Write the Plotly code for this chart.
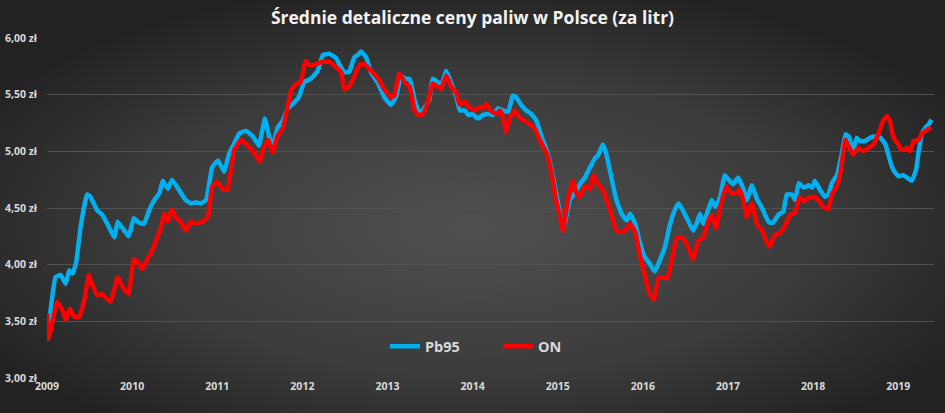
import base64
import plotly.graph_objects as go

title_text = "Średnie detaliczne ceny paliw w Polsce (za litr)"
series_names = ["Pb95", "ON"]

pb95_t = [2009.00, 2009.10, 2009.16, 2009.22, 2009.26, 2009.30, 2009.34, 2009.40, 2009.47, 2009.51,
          2009.59, 2009.65, 2009.73, 2009.79, 2009.83, 2009.89, 2009.96, 2010.02, 2010.08, 2010.14,
          2010.20, 2010.26, 2010.32, 2010.36, 2010.42, 2010.47, 2010.55, 2010.63, 2010.69, 2010.75,
          2010.81, 2010.87, 2010.94, 2011.01, 2011.08, 2011.14, 2011.18, 2011.26, 2011.34, 2011.42,
          2011.49, 2011.56, 2011.61, 2011.65, 2011.71, 2011.77, 2011.83, 2011.89, 2011.96, 2012.02,
          2012.10, 2012.18, 2012.24, 2012.32, 2012.40, 2012.44, 2012.49, 2012.55, 2012.61, 2012.65,
          2012.69, 2012.75, 2012.81, 2012.89, 2012.96, 2013.04, 2013.10, 2013.16, 2013.20, 2013.26,
          2013.32, 2013.38, 2013.44, 2013.49, 2013.53, 2013.59, 2013.63, 2013.69, 2013.75, 2013.81,
          2013.85, 2013.91, 2013.95, 2014.00, 2014.06, 2014.12, 2014.18, 2014.24, 2014.30, 2014.36,
          2014.42, 2014.47, 2014.51, 2014.57, 2014.63, 2014.69, 2014.75, 2014.81, 2014.87, 2014.93,
          2014.98, 2015.02, 2015.06, 2015.10, 2015.14, 2015.20, 2015.26, 2015.32, 2015.38, 2015.44,
          2015.47, 2015.53, 2015.57, 2015.63, 2015.69, 2015.75, 2015.81, 2015.85, 2015.91, 2015.96,
          2016.02, 2016.08, 2016.14, 2016.20, 2016.26, 2016.32, 2016.38, 2016.42, 2016.47, 2016.53,
          2016.59, 2016.63, 2016.67, 2016.71, 2016.77, 2016.81, 2016.85, 2016.91, 2016.96, 2017.02,
          2017.06, 2017.12, 2017.18, 2017.22, 2017.28, 2017.34, 2017.40, 2017.46, 2017.49, 2017.53,
          2017.59, 2017.65, 2017.69, 2017.75, 2017.79, 2017.83, 2017.89, 2017.95, 2017.99, 2018.02,
          2018.08, 2018.14, 2018.18, 2018.22, 2018.28, 2018.34, 2018.38, 2018.42, 2018.47, 2018.51,
          2018.55, 2018.61, 2018.67, 2018.73, 2018.79, 2018.85, 2018.91, 2018.94, 2019.00, 2019.06,
          2019.12, 2019.16, 2019.21, 2019.24, 2019.28, 2019.32, 2019.36, 2019.39]
pb95 = [3.33, 3.89, 3.91, 3.83, 3.95, 3.92, 4.01, 4.36, 4.62, 4.60,
        4.48, 4.44, 4.33, 4.24, 4.38, 4.32, 4.25, 4.41, 4.37, 4.36,
        4.48, 4.57, 4.63, 4.74, 4.67, 4.75, 4.66, 4.57, 4.54, 4.55,
        4.54, 4.57, 4.86, 4.92, 4.82, 4.98, 5.04, 5.16, 5.18, 5.13,
        5.05, 5.29, 5.13, 5.04, 5.21, 5.27, 5.38, 5.42, 5.48, 5.61,
        5.64, 5.71, 5.85, 5.86, 5.82, 5.76, 5.70, 5.70, 5.83, 5.85,
        5.88, 5.83, 5.69, 5.60, 5.48, 5.41, 5.48, 5.67, 5.64, 5.64,
        5.45, 5.33, 5.39, 5.45, 5.64, 5.61, 5.58, 5.71, 5.60, 5.48,
        5.36, 5.36, 5.32, 5.33, 5.29, 5.32, 5.33, 5.32, 5.38, 5.36,
        5.35, 5.49, 5.48, 5.41, 5.36, 5.33, 5.27, 5.13, 5.01, 4.83,
        4.63, 4.48, 4.30, 4.42, 4.57, 4.63, 4.71, 4.77, 4.86, 4.94,
        4.96, 5.06, 4.98, 4.77, 4.57, 4.45, 4.39, 4.45, 4.36, 4.21,
        4.07, 4.01, 3.94, 4.04, 4.16, 4.36, 4.49, 4.54, 4.48, 4.39,
        4.30, 4.36, 4.45, 4.36, 4.49, 4.57, 4.51, 4.60, 4.79, 4.74,
        4.71, 4.77, 4.67, 4.57, 4.70, 4.58, 4.50, 4.40, 4.37, 4.37,
        4.44, 4.47, 4.62, 4.62, 4.57, 4.72, 4.68, 4.70, 4.68, 4.74,
        4.66, 4.60, 4.62, 4.72, 4.79, 4.99, 5.15, 5.13, 5.00, 5.12,
        5.09, 5.09, 5.12, 5.13, 5.12, 5.06, 4.90, 4.84, 4.78, 4.79,
        4.76, 4.74, 4.84, 5.00, 5.16, 5.21, 5.24, 5.28]

on_t = [2009.00, 2009.02, 2009.12, 2009.18, 2009.22, 2009.27, 2009.32, 2009.38, 2009.44, 2009.49,
        2009.53, 2009.59, 2009.65, 2009.69, 2009.75, 2009.83, 2009.89, 2009.96, 2010.02, 2010.08,
        2010.12, 2010.18, 2010.24, 2010.28, 2010.34, 2010.38, 2010.42, 2010.47, 2010.51, 2010.57,
        2010.63, 2010.69, 2010.75, 2010.83, 2010.89, 2010.94, 2011.00, 2011.06, 2011.12, 2011.20,
        2011.28, 2011.36, 2011.44, 2011.50, 2011.55, 2011.60, 2011.65, 2011.71, 2011.77, 2011.81,
        2011.87, 2011.93, 2011.98, 2012.04, 2012.08, 2012.16, 2012.24, 2012.32, 2012.40, 2012.46,
        2012.49, 2012.55, 2012.61, 2012.67, 2012.73, 2012.81, 2012.89, 2012.96, 2013.04, 2013.08,
        2013.14, 2013.20, 2013.26, 2013.32, 2013.36, 2013.42, 2013.48, 2013.53, 2013.59, 2013.63,
        2013.69, 2013.75, 2013.81, 2013.85, 2013.91, 2013.96, 2014.02, 2014.08, 2014.12, 2014.16,
        2014.21, 2014.28, 2014.32, 2014.36, 2014.39, 2014.44, 2014.49, 2014.55, 2014.61, 2014.67,
        2014.73, 2014.79, 2014.87, 2014.93, 2014.98, 2015.02, 2015.06, 2015.12, 2015.18, 2015.22,
        2015.26, 2015.32, 2015.38, 2015.42, 2015.47, 2015.53, 2015.59, 2015.65, 2015.69, 2015.75,
        2015.79, 2015.85, 2015.91, 2015.96, 2016.02, 2016.08, 2016.13, 2016.18, 2016.24, 2016.29,
        2016.34, 2016.40, 2016.46, 2016.51, 2016.59, 2016.65, 2016.71, 2016.77, 2016.81, 2016.86,
        2016.91, 2016.98, 2017.04, 2017.10, 2017.14, 2017.18, 2017.22, 2017.28, 2017.34, 2017.40,
        2017.46, 2017.49, 2017.55, 2017.61, 2017.67, 2017.73, 2017.79, 2017.84, 2017.89, 2017.95,
        2018.01, 2018.06, 2018.12, 2018.18, 2018.22, 2018.28, 2018.32, 2018.38, 2018.42, 2018.47,
        2018.53, 2018.59, 2018.65, 2018.71, 2018.77, 2018.83, 2018.87, 2018.91, 2018.94, 2019.00,
        2019.04, 2019.10, 2019.14, 2019.18, 2019.24, 2019.28, 2019.34, 2019.39]
on = [3.57, 3.35, 3.67, 3.60, 3.51, 3.61, 3.54, 3.54, 3.69, 3.91,
      3.83, 3.73, 3.74, 3.71, 3.67, 3.89, 3.80, 3.74, 4.05, 4.01,
      3.96, 4.05, 4.13, 4.21, 4.33, 4.45, 4.38, 4.49, 4.42, 4.38,
      4.30, 4.38, 4.36, 4.38, 4.42, 4.69, 4.73, 4.67, 4.66, 5.01,
      5.10, 5.05, 4.98, 4.91, 5.04, 5.10, 4.99, 5.14, 5.20, 5.33,
      5.54, 5.60, 5.61, 5.80, 5.76, 5.77, 5.79, 5.79, 5.74, 5.69,
      5.55, 5.57, 5.66, 5.76, 5.77, 5.71, 5.64, 5.55, 5.48, 5.49,
      5.69, 5.61, 5.57, 5.36, 5.32, 5.33, 5.45, 5.60, 5.57, 5.55,
      5.67, 5.57, 5.51, 5.41, 5.44, 5.39, 5.36, 5.39, 5.38, 5.42,
      5.36, 5.33, 5.36, 5.30, 5.17, 5.30, 5.36, 5.30, 5.27, 5.24,
      5.20, 5.10, 4.98, 4.80, 4.57, 4.45, 4.30, 4.57, 4.74, 4.63,
      4.60, 4.69, 4.67, 4.79, 4.71, 4.66, 4.54, 4.39, 4.30, 4.29,
      4.30, 4.36, 4.29, 4.10, 3.92, 3.74, 3.69, 3.88, 3.89, 3.88,
      4.04, 4.24, 4.24, 4.19, 4.05, 4.21, 4.24, 4.39, 4.44, 4.32,
      4.51, 4.69, 4.63, 4.63, 4.66, 4.57, 4.42, 4.54, 4.36, 4.30,
      4.19, 4.16, 4.26, 4.28, 4.34, 4.44, 4.46, 4.60, 4.56, 4.59,
      4.60, 4.57, 4.51, 4.49, 4.62, 4.69, 4.81, 5.10, 5.04, 4.97,
      5.03, 5.00, 5.03, 5.06, 5.16, 5.28, 5.31, 5.25, 5.13, 5.06,
      5.01, 5.03, 5.00, 5.09, 5.10, 5.16, 5.19, 5.21]

year_ticks = list(range(2009, 2020))
year_labels = [str(y) for y in year_ticks]
price_ticks = [3.0, 3.5, 4.0, 4.5, 5.0, 5.5, 6.0]
price_labels = ["3,00 zł", "3,50 zł", "4,00 zł", "4,50 zł", "5,00 zł", "5,50 zł", "6,00 zł"]

W, H = 945, 413
ML, MR, MT, MB = 47, 11, 38, 35

svg = (
    f'<svg xmlns="http://www.w3.org/2000/svg" width="{W}" height="{H}" viewBox="0 0 {W} {H}" preserveAspectRatio="none">'
    '<defs><radialGradient id="g" cx="50%" cy="55%" r="60%">'
    '<stop offset="0%" stop-color="#505050"/><stop offset="60%" stop-color="#3b3b3b"/>'
    '<stop offset="100%" stop-color="#222222"/></radialGradient></defs>'
    f'<rect x="0" y="0" width="{W}" height="{H}" fill="url(#g)"/></svg>'
)
bg_src = "data:image/svg+xml;base64," + base64.b64encode(svg.encode()).decode()

pw = W - ML - MR
ph = H - MT - MB

fig = go.Figure()
fig.add_trace(go.Scatter(x=pb95_t, y=pb95, mode="lines", name=series_names[0],
                         line=dict(color="#00B0F0", width=4.5, shape="spline", smoothing=0.3)))
fig.add_trace(go.Scatter(x=on_t, y=on, mode="lines", name=series_names[1],
                         line=dict(color="#FF0000", width=4.5, shape="spline", smoothing=0.3)))

fig.update_layout(
    width=W, height=H,
    margin=dict(l=ML, r=MR, t=MT, b=MB, pad=0, autoexpand=False),
    paper_bgcolor="#333333",
    plot_bgcolor="rgba(0,0,0,0)",
    font=dict(family="Open Sans, sans-serif", color="#d9d9d9"),
    title=dict(text="<b>" + title_text + "</b>", x=0.5, xanchor="center", y=1 - 18 / H, yanchor="middle",
               font=dict(size=17.5, color="#f2f2f2", family="Open Sans, sans-serif")),
    showlegend=True,
    legend=dict(orientation="h", x=(385 - ML) / pw, xanchor="left", y=0.093, yanchor="middle",
                bgcolor="rgba(0,0,0,0)", font=dict(size=14.5, color="#d9d9d9", family="Open Sans, sans-serif", weight="bold"),
                entrywidth=68, itemwidth=30),
    images=[dict(source=bg_src, xref="paper", yref="paper", x=-ML / pw, y=1 + MT / ph,
                 sizex=W / pw, sizey=H / ph, sizing="stretch", xanchor="left", yanchor="top", layer="below")],
)
fig.update_xaxes(range=[2009.0, 2019.42], tickvals=year_ticks, ticktext=year_labels, showgrid=False,
                 zeroline=False, showline=False, ticks="", automargin=False,
                 tickfont=dict(size=10.5, color="#d9d9d9", weight="bold"))
fig.update_yaxes(range=[3.0, 6.0], tickvals=price_ticks, ticktext=price_labels, showgrid=True,
                 gridcolor="#525252", gridwidth=1.3, zeroline=False, showline=False, ticks="",
                 ticklabelstandoff=9, automargin=False,
                 tickfont=dict(size=10.5, color="#d9d9d9", weight="bold"))

fig.write_html("out.html", config={"displayModeBar": False},
               post_script="document.body.style.margin='0';document.body.style.background='#262626';")
